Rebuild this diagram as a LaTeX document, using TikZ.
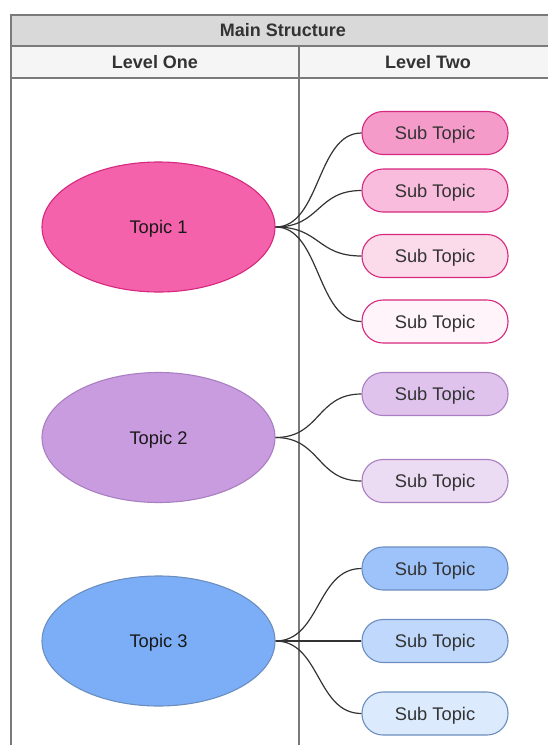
\documentclass[tikz,border=0pt]{standalone}
\usepackage{fontspec}
\setmainfont{Liberation Sans}
\usetikzlibrary{shapes.geometric}
\definecolor{tline}{HTML}{7A7A7A}
\definecolor{ttext}{HTML}{333333}
\definecolor{hdrA}{HTML}{D9D9D9}
\definecolor{hdrB}{HTML}{F5F5F5}
\tikzset{
  topic/.style={ellipse, draw=#1, line width=1.1pt, minimum width=233pt, minimum height=130pt, font=\fontsize{18.3}{20}\selectfont, text=black!90, text depth=0pt},
  sub/.style={rounded corners=21pt, draw=#1, line width=1.1pt, minimum width=146pt, minimum height=43pt, font=\fontsize{18.3}{20}\selectfont, text=ttext, text depth=0pt},
  link/.style={draw=black!80, line width=1.2pt},
  hdr/.style={font=\bfseries\fontsize{18}{20}\selectfont, text=ttext, text depth=0pt}
}
\begin{document}
\begin{tikzpicture}[x=1pt,y=-1pt]
\useasboundingbox (0,0) rectangle (548,745);
\begin{scope}
\clip (0,0) rectangle (548,745);
\fill[hdrA] (11,15) rectangle (560,46);
\fill[hdrB] (11,46) rectangle (560,78);
\draw[tline, line width=1.1pt] (560,15) -- (11,15) -- (11,760);
\draw[tline, line width=1.1pt] (11,46) -- (560,46);
\draw[tline, line width=1.1pt] (11,78) -- (560,78);
\draw[tline, line width=1.1pt] (299,46) -- (299,760);
\end{scope}
\node[hdr] (title) at (283,30) {Main Structure};
\node[hdr] (l1) at (155,62) {Level One};
\node[hdr] (l2) at (428,62) {Level Two};

\definecolor{p0}{HTML}{F462AC}\definecolor{p0s}{HTML}{D6287E}
\definecolor{p1}{HTML}{F59BCA}\definecolor{p2}{HTML}{F9BCDC}
\definecolor{p3}{HTML}{FBDAEA}\definecolor{p4}{HTML}{FFF4FA}
\definecolor{v0}{HTML}{C99BDF}\definecolor{v0s}{HTML}{A97FC2}
\definecolor{v1}{HTML}{DFC3ED}\definecolor{v2}{HTML}{EBDBF3}
\definecolor{b0}{HTML}{7BAEF6}\definecolor{b0s}{HTML}{6C8EBF}
\definecolor{b1}{HTML}{9DC3FA}\definecolor{b2}{HTML}{C0D8FC}\definecolor{b3}{HTML}{DCEAFD}

\node[topic=p0s, fill=p0] (t1) at (158.5,227) {Topic 1};
\node[topic=v0s, fill=v0] (t2) at (158.5,437.5) {Topic 2};
\node[topic=b0s, fill=b0] (t3) at (158.5,641) {Topic 3};

\node[sub=p0s, fill=p1] (s11) at (435,133) {Sub Topic};
\node[sub=p0s, fill=p2] (s12) at (435,190.5) {Sub Topic};
\node[sub=p0s, fill=p3] (s13) at (435,256) {Sub Topic};
\node[sub=p0s, fill=p4] (s14) at (435,321.5) {Sub Topic};
\node[sub=v0s, fill=v1] (s21) at (435,394) {Sub Topic};
\node[sub=v0s, fill=v2] (s22) at (435,481) {Sub Topic};
\node[sub=b0s, fill=b1] (s31) at (435,568.5) {Sub Topic};
\node[sub=b0s, fill=b2] (s32) at (435,641) {Sub Topic};
\node[sub=b0s, fill=b3] (s33) at (435,713.5) {Sub Topic};

\foreach \t/\s in {t1/s11,t1/s12,t1/s13,t1/s14,t2/s21,t2/s22,t3/s31,t3/s32,t3/s33}{
  \draw[link] (\t.east) .. controls ([xshift=45pt]\t.east) and ([xshift=-45pt]\s.west) .. (\s.west);
}
\end{tikzpicture}
\end{document}
